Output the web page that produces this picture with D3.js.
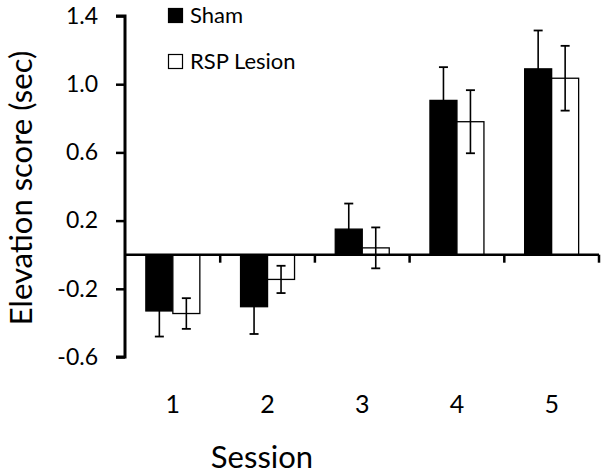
<!DOCTYPE html>
<html>
<head>
<meta charset="utf-8">
<script src="https://cdn.jsdelivr.net/npm/d3@7"></script>
<style>
  html, body { margin: 0; padding: 0; background: #fff; }
  svg { display: block; font-family: Lato, "Open Sans", sans-serif; }
</style>
</head>
<body>
<svg id="chart" width="606" height="475"></svg>
<script>
const sessions = ["1", "2", "3", "4", "5"];
const seriesNames = ["Sham", "RSP Lesion"];
const shamValues = [-0.33, -0.305, 0.15, 0.905, 1.09];
const shamErrors = [0.15, 0.16, 0.15, 0.195, 0.225];
const rspValues = [-0.345, -0.145, 0.04, 0.78, 1.035];
const rspErrors = [0.09, 0.08, 0.12, 0.185, 0.19];
const yTicks = [-0.6, -0.2, 0.2, 0.6, 1.0, 1.4];

const svg = d3.select("#chart");
const x0 = d3.scaleBand().domain(sessions).range([125.5, 599]).paddingInner(0.43).paddingOuter(0.215);
const x1 = d3.scaleBand().domain(seriesNames).range([0, x0.bandwidth()]);
const y = d3.scaleLinear().domain([-0.6, 1.4]).range([357, 16]);
const fills = { "Sham": "#000", "RSP Lesion": "#fff" };

const rows = sessions.map((s, i) => ({
  session: s,
  items: [
    { name: "Sham", value: shamValues[i], err: shamErrors[i] },
    { name: "RSP Lesion", value: rspValues[i], err: rspErrors[i] }
  ]
}));

// bars
const g = svg.append("g");
const groups = g.selectAll("g.grp").data(rows).join("g")
  .attr("transform", d => `translate(${x0(d.session)},0)`);
groups.selectAll("rect").data(d => d.items).join("rect")
  .attr("x", d => x1(d.name))
  .attr("width", x1.bandwidth())
  .attr("y", d => Math.min(y(d.value), y(0)))
  .attr("height", d => Math.abs(y(d.value) - y(0)))
  .attr("fill", d => fills[d.name])
  .attr("stroke", "#000")
  .attr("stroke-width", 1.3);

// error bars
const eb = groups.selectAll("g.err").data(d => d.items).join("g").attr("class", "err");
eb.append("line")
  .attr("x1", d => x1(d.name) + x1.bandwidth() / 2)
  .attr("x2", d => x1(d.name) + x1.bandwidth() / 2)
  .attr("y1", d => y(d.value - d.err))
  .attr("y2", d => y(d.value + d.err))
  .attr("stroke", "#000")
  .attr("stroke-width", 1.6);
[-1, 1].forEach(sgn => {
  eb.append("line")
    .attr("x1", d => x1(d.name) + x1.bandwidth() / 2 - 4.5)
    .attr("x2", d => x1(d.name) + x1.bandwidth() / 2 + 4.5)
    .attr("y1", d => y(d.value + sgn * d.err))
    .attr("y2", d => y(d.value + sgn * d.err))
    .attr("stroke", "#000")
    .attr("stroke-width", 1.8);
});

// y axis
const yAxis = d3.axisLeft(y).tickValues(yTicks).tickFormat(d => d.toFixed(1)).tickSize(9).tickPadding(18);
const ya = svg.append("g").attr("transform", "translate(125,0)").call(yAxis);
ya.select(".domain").attr("stroke-width", 3).attr("d", `M-9,${y(1.4)}H0V${y(-0.6)}H-9`);
ya.selectAll(".tick line").attr("stroke-width", 2.5);
ya.selectAll(".tick text").attr("font-size", 23).attr("fill", "#000")
  .attr("font-family", "Lato, sans-serif");

// x axis at zero with boundary ticks
const xa = svg.append("g");
xa.append("line").attr("x1", 125).attr("x2", x0.range()[1]).attr("y1", y(0)).attr("y2", y(0))
  .attr("stroke", "#000").attr("stroke-width", 2.6);
const bounds = sessions.slice(1).map(s => x0(s) - x0.step() * x0.paddingInner() / 2).concat([x0.range()[1]]);
xa.selectAll("line.bt").data(bounds).join("line").attr("class", "bt")
  .attr("x1", d => d).attr("x2", d => d)
  .attr("y1", y(0)).attr("y2", y(0) + 8)
  .attr("stroke", "#000").attr("stroke-width", 2.5);
xa.selectAll("text.cat").data(sessions).join("text").attr("class", "cat")
  .attr("x", d => x0(d) + x0.bandwidth() / 2)
  .attr("y", 413)
  .attr("text-anchor", "middle")
  .attr("font-size", 25)
  .text(d => d);

// axis titles
svg.append("text").attr("x", 262).attr("y", 468).attr("text-anchor", "middle")
  .attr("font-size", 31).text("Session");
svg.append("text").attr("transform", "translate(32,188) rotate(-90)").attr("text-anchor", "middle")
  .attr("font-size", 31).text("Elevation score (sec)");

// legend
const leg = svg.append("g");
const legY = [8, 54];
seriesNames.forEach((n, i) => {
  leg.append("rect").attr("x", 168.5).attr("y", legY[i] + 0.5).attr("width", 14).attr("height", 14)
    .attr("fill", fills[n]).attr("stroke", "#000").attr("stroke-width", 1.2);
  leg.append("text").attr("x", 190).attr("y", legY[i] + 15).attr("font-size", 22).text(n);
});
</script>
</body>
</html>
